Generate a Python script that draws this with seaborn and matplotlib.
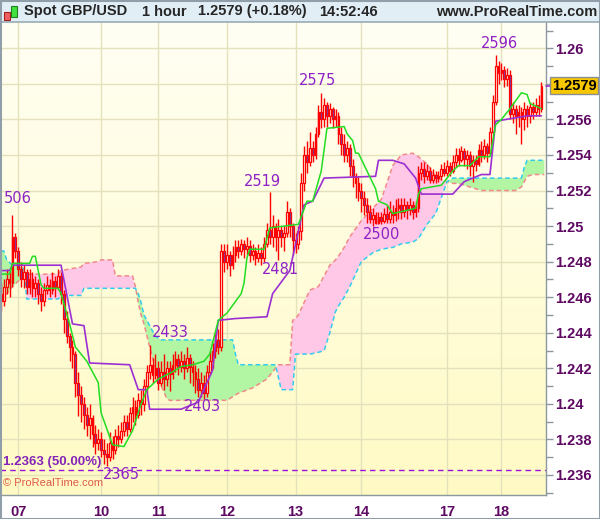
import numpy as np
import pandas as pd
import matplotlib
matplotlib.use("Agg")
import matplotlib.pyplot as plt
import seaborn as sns
from matplotlib.patches import Rectangle

# hourly GBP/USD candles, prices in pips (2475 -> 1.2475); open = previous close
first_open = 2462
closes = [2458, 2466, 2470, 2468, 2494, 2486, 2476, 2470, 2474, 2466,
          2470, 2465, 2468, 2462, 2458, 2464, 2467, 2464, 2469, 2466,
          2472, 2462, 2448, 2438, 2432, 2428, 2412, 2405, 2400, 2394,
          2388, 2392, 2383, 2378, 2380, 2374, 2372, 2370, 2378, 2374,
          2382, 2380, 2385, 2390, 2386, 2395, 2398, 2394, 2402, 2400,
          2410, 2418, 2422, 2416, 2420, 2412, 2418, 2414, 2420, 2417,
          2422, 2425, 2421, 2424, 2420, 2426, 2421, 2418, 2414, 2408,
          2412, 2406, 2418, 2424, 2430, 2436, 2432, 2486, 2480, 2484,
          2478, 2484, 2488, 2486, 2490, 2487, 2489, 2484, 2486, 2482,
          2485, 2482, 2490, 2498, 2494, 2500, 2494, 2498, 2494, 2496,
          2508, 2500, 2492, 2490, 2497, 2524, 2540, 2536, 2544, 2540,
          2552, 2564, 2560, 2568, 2562, 2566, 2560, 2562, 2552, 2546,
          2540, 2544, 2534, 2528, 2524, 2520, 2516, 2512, 2508, 2504,
          2506, 2502, 2505, 2503, 2507, 2504, 2508, 2506, 2510, 2512,
          2508, 2512, 2509, 2512, 2508, 2510, 2530, 2532, 2528, 2531,
          2526, 2529, 2527, 2528, 2532, 2530, 2534, 2531, 2536, 2540,
          2537, 2542, 2538, 2540, 2534, 2537, 2535, 2543, 2540, 2545,
          2541, 2553, 2570, 2590, 2586, 2588, 2583, 2585, 2563, 2566,
          2562, 2564, 2560, 2566, 2562, 2567, 2564, 2568, 2566, 2579]
highs = [2468, 2470, 2476, 2474, 2506, 2496, 2488, 2480, 2478, 2476,
         2476, 2474, 2472, 2470, 2466, 2468, 2472, 2470, 2474, 2472,
         2476, 2474, 2464, 2452, 2440, 2436, 2430, 2418, 2410, 2404,
         2398, 2400, 2394, 2388, 2386, 2384, 2380, 2378, 2384, 2382,
         2386, 2388, 2390, 2394, 2394, 2398, 2404, 2402, 2406, 2408,
         2414, 2422, 2433, 2426, 2428, 2424, 2424, 2428, 2424, 2424,
         2428, 2430, 2428, 2430, 2428, 2432, 2428, 2424, 2422, 2420,
         2418, 2416, 2422, 2430, 2434, 2440, 2442, 2490, 2490, 2490,
         2486, 2489, 2492, 2492, 2493, 2492, 2494, 2492, 2490, 2488,
         2490, 2488, 2494, 2502, 2519, 2506, 2502, 2504, 2500, 2500,
         2514, 2510, 2502, 2496, 2500, 2530, 2545, 2548, 2553, 2548,
         2556, 2568, 2575, 2572, 2570, 2569, 2567, 2566, 2564, 2556,
         2552, 2548, 2546, 2538, 2530, 2528, 2524, 2520, 2516, 2512,
         2510, 2508, 2508, 2508, 2510, 2512, 2514, 2512, 2515, 2516,
         2516, 2516, 2514, 2516, 2514, 2514, 2534, 2536, 2536, 2535,
         2533, 2532, 2531, 2531, 2535, 2536, 2537, 2536, 2540, 2544,
         2544, 2545, 2544, 2543, 2542, 2540, 2540, 2546, 2548, 2549,
         2547, 2556, 2574, 2596, 2593, 2592, 2590, 2589, 2588, 2570,
         2568, 2568, 2567, 2570, 2568, 2570, 2570, 2572, 2574, 2581]
lows = [2452, 2455, 2462, 2460, 2466, 2482, 2472, 2466, 2465, 2462,
        2462, 2460, 2460, 2456, 2452, 2455, 2462, 2460, 2462, 2460,
        2464, 2456, 2440, 2434, 2424, 2420, 2404, 2393, 2390, 2386,
        2382, 2380, 2376, 2372, 2374, 2370, 2366, 2365, 2368, 2369,
        2372, 2376, 2378, 2382, 2382, 2384, 2390, 2388, 2392, 2394,
        2396, 2406, 2414, 2412, 2414, 2408, 2410, 2408, 2410, 2407,
        2414, 2418, 2416, 2418, 2414, 2418, 2412, 2410, 2406, 2404,
        2404, 2403, 2404, 2416, 2420, 2426, 2428, 2430, 2474, 2476,
        2472, 2476, 2480, 2482, 2484, 2482, 2484, 2480, 2481, 2478,
        2480, 2478, 2480, 2488, 2490, 2488, 2486, 2481, 2488, 2486,
        2494, 2494, 2484, 2485, 2487, 2492, 2520, 2530, 2534, 2536,
        2538, 2550, 2555, 2556, 2556, 2558, 2555, 2556, 2546, 2540,
        2536, 2536, 2528, 2522, 2516, 2514, 2508, 2506, 2502, 2502,
        2500, 2501, 2501, 2501, 2502, 2502, 2502, 2502, 2503, 2504,
        2504, 2505, 2504, 2506, 2504, 2505, 2508, 2526, 2524, 2526,
        2524, 2524, 2524, 2525, 2526, 2528, 2528, 2528, 2530, 2533,
        2534, 2536, 2534, 2532, 2528, 2525, 2531, 2534, 2536, 2538,
        2536, 2540, 2552, 2568, 2580, 2582, 2578, 2579, 2560, 2558,
        2552, 2556, 2546, 2554, 2556, 2558, 2560, 2562, 2562, 2564]

# Ichimoku lines (candle index, pips)
tenkan_idx = [0, 3, 4, 10, 11, 12, 14, 15, 20, 21, 24, 26, 30, 34, 35, 39, 43, 46, 49,
              51, 55, 60, 63, 67, 71, 73, 76, 79, 84, 85, 86, 87, 92, 94, 104, 107, 109,
              112, 114, 120, 121, 123, 124, 125, 128, 131, 132, 135, 137, 145, 146, 147,
              154, 156, 158, 160, 164, 167, 171, 173, 175, 178, 182, 184, 185, 189]
tenkan_val = [2473, 2473, 2479, 2479, 2483, 2483, 2467, 2465, 2465, 2462, 2445, 2432, 2424,
              2412, 2395, 2377, 2376, 2385, 2400, 2408, 2414, 2418, 2421, 2422, 2424, 2428,
              2447, 2451, 2462, 2468, 2482, 2487, 2487, 2499, 2501, 2514, 2514, 2531, 2555,
              2556, 2552, 2548, 2541, 2541, 2531, 2521, 2514, 2512, 2507, 2510, 2518, 2521,
              2523, 2527, 2531, 2534, 2534, 2539, 2539, 2557, 2560, 2566, 2575, 2574, 2569,
              2566]
kijun_idx = [0, 3, 4, 21, 25, 29, 31, 45, 48, 51, 52, 63, 69, 74, 75, 76, 82, 93, 95, 101,
             104, 106, 109, 113, 131, 132, 137, 141, 145, 147, 158, 162, 165, 168, 171, 173,
             184, 189]
kijun_val = [2475, 2475, 2478, 2478, 2445, 2444, 2423, 2422, 2408, 2408, 2397, 2397, 2401,
             2419, 2434, 2447, 2448, 2449, 2462, 2475, 2497, 2512, 2514, 2527, 2528, 2537,
             2537, 2535, 2527, 2518, 2518, 2525, 2527, 2529, 2529, 2559, 2562, 2562]

# cloud: senkou span A and B on a shared index grid
cloud_idx = [0, 1, 2, 4, 6, 8, 9, 20, 21, 28, 29, 34, 35, 39, 40, 46, 47, 48, 49, 50, 52,
             54, 56, 58, 59, 79, 81, 82, 83, 88, 93, 96, 97, 98, 101, 102, 103, 104, 108,
             111, 113, 115, 117, 118, 120, 122, 126, 130, 133, 137, 140, 144, 146, 149,
             152, 154, 156, 158, 160, 164, 168, 180, 182, 183, 184, 186, 190]
span_a = [2486, 2486, 2481, 2478, 2478, 2476, 2459, 2459, 2461, 2461, 2465, 2465, 2465,
          2465, 2465, 2465, 2465, 2462, 2457, 2450, 2444, 2438, 2436, 2436, 2436, 2436,
          2436, 2428, 2422, 2422, 2422, 2422, 2415, 2408, 2408, 2408, 2428, 2428, 2428,
          2429, 2430, 2440, 2452, 2455, 2460, 2466, 2480, 2485, 2487, 2488, 2490, 2491,
          2493, 2501, 2507, 2516, 2525, 2527, 2527, 2527, 2527, 2527, 2527, 2533, 2537,
          2537, 2537]
span_b = [2458, 2460, 2462, 2466, 2469, 2472, 2473, 2473, 2475, 2477, 2479, 2480, 2481,
          2481, 2472, 2472, 2466, 2457, 2450, 2445, 2432, 2420, 2410, 2403, 2402, 2402,
          2404, 2405, 2406, 2409, 2414, 2420, 2422, 2422, 2422, 2447, 2448, 2450, 2464,
          2466, 2472, 2478, 2481, 2483, 2488, 2494, 2503, 2510, 2515, 2534, 2540, 2541,
          2539, 2535, 2528, 2526, 2525, 2524, 2524, 2522, 2520, 2520, 2522, 2525, 2528,
          2529, 2529]

# swing high / low labels
ext_labels = ["506", "2365", "2433", "2403", "2519", "2481", "2575", "2500", "2596"]
ext_index = [4, 37, 52, 71, 94, 97, 112, 130, 173]
ext_price = [2506, 2365, 2433, 2403, 2519, 2481, 2575, 2500, 2596]
ext_offset = [(5, 17), (15, -8), (21, 13), (-2, -8), (-7, 11), (2, -10), (-4, 12), (9, -8), (4, 12)]

day_labels = ["07", "10", "11", "12", "13", "14", "17", "18"]
day_index = [6, 35, 55, 79, 103, 126, 156, 175]

fib_level = 1.2363
last_price = 1.2579


def px(v):
    return 1 + np.asarray(v, dtype=float) / 10000.0


df = pd.DataFrame({"close": px(closes), "high": px(highs), "low": px(lows)})
df["open"] = df["close"].shift(1).fillna(px(first_open))
df["i"] = np.arange(len(df))

sns.set_style("white")
plt.rcParams["font.family"] = ["Liberation Sans", "DejaVu Sans"]

W, H = 600, 519
fig = plt.figure(figsize=(6.0, 5.19), dpi=100)
fig.patch.set_facecolor("white")
ax = fig.add_axes([0, 24 / H, 546 / W, (495 - 22) / H])

ax.set_xlim(-0.35, 190.6)
ax.set_ylim(1.234875, 1.261479)

# background gradient
grad = np.linspace(0, 1, 256).reshape(-1, 1)
cmap = matplotlib.colors.LinearSegmentedColormap.from_list("bg", ["#fffac4", "#fffff4"])
ax.imshow(grad, extent=[0, 1, 0, 1], transform=ax.transAxes, cmap=cmap,
          aspect="auto", origin="lower", zorder=0)

# grid
yt = np.round(np.arange(1.236, 1.2601, 0.002), 3)
for y in yt:
    ax.axhline(y, color="#e4e2bc", lw=1, zorder=0.5)
for d in day_index:
    ax.axvline(d, color="#e4e2bc", lw=1, zorder=0.5)

# cloud
ci = np.array(cloud_idx, dtype=float)
sa = px(span_a)
sb = px(span_b)
ax.fill_between(ci, sa, sb, where=sa >= sb, interpolate=True, color="#b2f5a2", lw=0, zorder=1)
ax.fill_between(ci, sa, sb, where=sa < sb, interpolate=True, color="#ffc8e6", lw=0, zorder=1)
ax.plot(ci, sb, color="#f08a8a", lw=1.1, ls=(0, (3, 2)), zorder=1.5)
ax.plot(ci, sa, color="#33ccee", lw=1.1, ls=(0, (3, 2)), zorder=1.5)

# fib line
ax.axhline(fib_level, color="#9a10d8", lw=1, ls=(0, (4, 3)), zorder=2)

# candles
up = df["close"] >= df["open"]
ax.vlines(df["i"], df["low"], df["high"], color="#ff0000", lw=1, zorder=3)
body_lo = np.minimum(df["open"], df["close"])
body_h = np.maximum((df["close"] - df["open"]).abs(), 0.00003)
ax.bar(df["i"][up], body_h[up], bottom=body_lo[up], width=0.62,
       facecolor="#fffde8", edgecolor="#ff0000", lw=0.9, zorder=3.5)
ax.bar(df["i"][~up], body_h[~up], bottom=body_lo[~up], width=0.62,
       facecolor="#6a3fc0", edgecolor="#ff0000", lw=0.9, zorder=3.5)

# tenkan / kijun
sns.lineplot(x=kijun_idx, y=px(kijun_val), ax=ax, color="#9b2fd2", lw=1.2, zorder=4)
sns.lineplot(x=tenkan_idx, y=px(tenkan_val), ax=ax, color="#22dd22", lw=1.1, zorder=4.5)

# swing labels
for t, i, p, off in zip(ext_labels, ext_index, ext_price, ext_offset):
    ax.annotate(t, xy=(i, px(p)), xytext=off, textcoords="offset pixels",
                ha="center", va="center", fontsize=10.5, color="#8e22c4",
                family="DejaVu Sans", zorder=6)

ax.text(3 / 546, fib_level + 0.00045, "1.2363 (50.00%)", transform=ax.get_yaxis_transform(),
        fontsize=9.5, fontweight="bold", color="#8424b8", ha="left", va="center", zorder=6)
ax.text(3 / 546, 0.015, "\u00a9 ProRealTime.com", transform=ax.transAxes,
        fontsize=8, color="#e05a4a", ha="left", va="bottom", zorder=6)

# axes styling
ax.yaxis.tick_right()
ax.set_yticks(yt)
ax.set_yticklabels(["" if abs(v - 1.258) < 1e-9 else f"{v:.3f}".rstrip("0") for v in yt])
ax.set_yticks(np.round(np.arange(1.235, 1.2611, 0.002), 3), minor=True)
ax.set_xticks(day_index)
ax.set_xticklabels(day_labels)
ax.tick_params(axis="y", which="both", direction="out", length=5, width=1, color="#8c979e",
               pad=1.5, labelsize=10.5, labelcolor="#5e0a62")
ax.tick_params(axis="x", direction="out", length=3, width=1, color="#8c979e",
               pad=4, labelsize=10.5, labelcolor="#5e0a62")
for lab in ax.get_xticklabels() + ax.get_yticklabels():
    lab.set_fontweight("bold")
for side in ["left", "top"]:
    ax.spines[side].set_visible(False)
for side in ["right", "bottom"]:
    ax.spines[side].set_color("#8c979e")
    ax.spines[side].set_linewidth(1)
ax.set_xlabel("")
ax.set_ylabel("")

# last price box
ax.text(1 + 6 / 546, last_price, "1.2579", transform=ax.get_yaxis_transform(),
        ha="left", va="center", fontsize=10.5, fontweight="bold", color="black",
        bbox=dict(boxstyle="square,pad=0.12", fc="#f7c800", ec="#8a8f94", lw=1),
        zorder=10, clip_on=False)
ax.plot([1.0, 1 + 5 / 546], [last_price, last_price], transform=ax.get_yaxis_transform(),
        color="#9b2fd2", lw=1.2, clip_on=False, zorder=9)

# header band
fig.patches.append(Rectangle((0, 1 - 22 / H), 1, 22 / H, transform=fig.transFigure,
                             fc="#e2eef5", ec="none", zorder=0))
fig.lines.append(plt.Line2D([0, 1], [1 - 22 / H, 1 - 22 / H], transform=fig.transFigure,
                            color="#9aabb5", lw=1.2))
fig.patches.append(Rectangle((4 / W, 1 - 20 / H), 6 / W, 8 / H, transform=fig.transFigure,
                             fc="#f06060", ec="#a02020", lw=0.8))
fig.patches.append(Rectangle((11 / W, 1 - 17 / H), 6 / W, 11 / H, transform=fig.transFigure,
                             fc="#40e040", ec="#208020", lw=0.8))
hy = 1 - 11.5 / H
fig.text(24 / W, hy, "Spot GBP/USD", fontsize=10.5, fontweight="bold", va="center")
fig.text(142 / W, hy, "1 hour", fontsize=10.5, fontweight="bold", va="center")
fig.text(198 / W, hy, "1.2579 (+0.18%)", fontsize=10.5, fontweight="bold", va="center")
fig.text(319 / W, hy, "14:52:46", fontsize=10.5, fontweight="bold", va="center")
fig.text(597 / W, hy, "www.ProRealTime.com", fontsize=10.5, fontweight="bold",
         va="center", ha="right")

# outer frame
fig.patches.append(Rectangle((0, 0), 1, 1, transform=fig.transFigure, fill=False,
                             ec="#8f9ea8", lw=2.2, zorder=20))

fig.savefig("out.png", dpi=100, facecolor="white")
